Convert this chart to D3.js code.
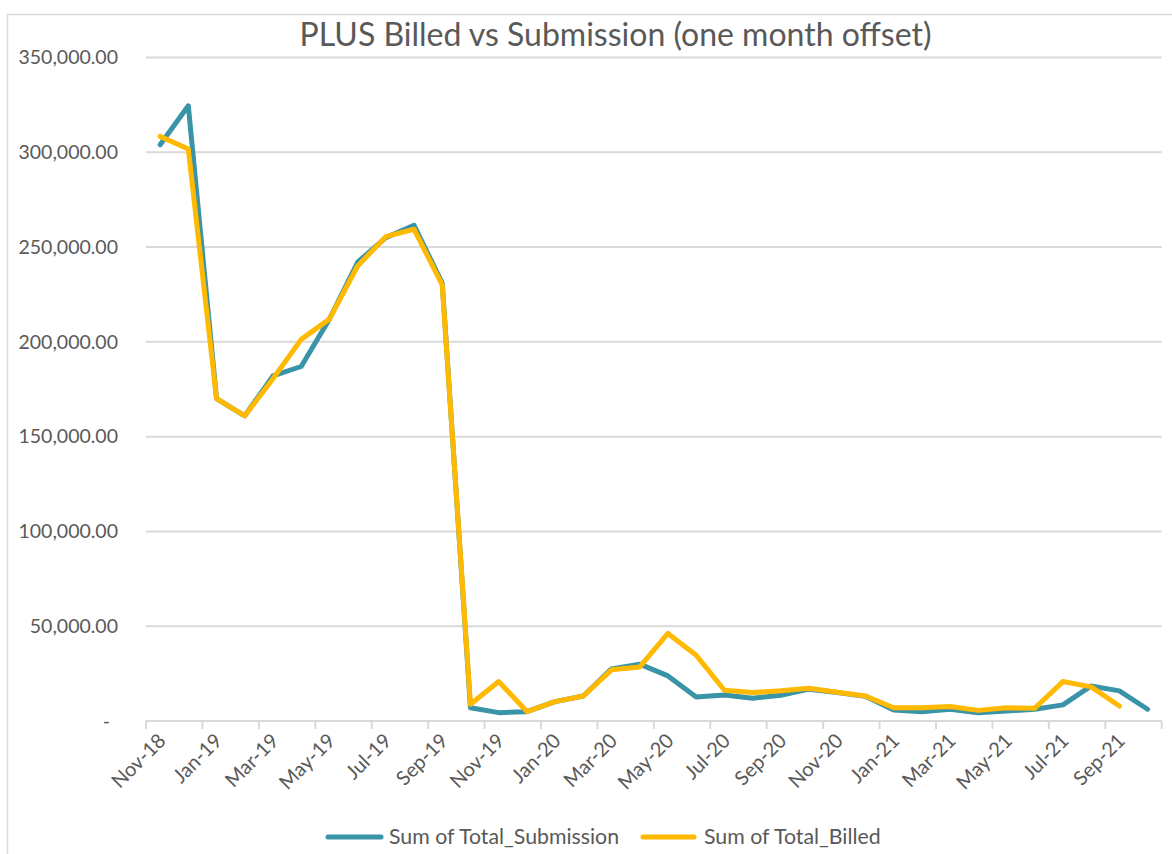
<!DOCTYPE html>
<html>
<head>
<meta charset="utf-8">
<script src="https://cdn.jsdelivr.net/npm/d3@7"></script>
<style>
  html, body { margin: 0; padding: 0; background: #fff; }
  svg { display: block; }
  text { font-family: Lato, "Open Sans", sans-serif; fill: #595959; }
</style>
</head>
<body>
<svg id="chart" width="1172" height="854"></svg>
<script>
const months = ["Nov-18","Dec-18","Jan-19","Feb-19","Mar-19","Apr-19","May-19","Jun-19","Jul-19","Aug-19","Sep-19","Oct-19",
  "Nov-19","Dec-19","Jan-20","Feb-20","Mar-20","Apr-20","May-20","Jun-20","Jul-20","Aug-20","Sep-20","Oct-20",
  "Nov-20","Dec-20","Jan-21","Feb-21","Mar-21","Apr-21","May-21","Jun-21","Jul-21","Aug-21","Sep-21","Oct-21"];
const submission = [304000, 324500, 170000, 161000, 182000, 187000, 212000, 242000, 255000, 261500, 231000, 7000,
  4400, 4900, 10200, 13200, 27500, 30000, 23800, 12700, 13700, 12000, 13600, 16800,
  15000, 13000, 5800, 4900, 6200, 4400, 5300, 6200, 8500, 18500, 15900, 6200];
const billed = [308400, 301700, 170000, 161000, 180500, 201300, 212000, 240000, 255500, 259400, 230000, 8800,
  20800, 5000, 10200, 13200, 27000, 28500, 46200, 34700, 16200, 15000, 15900, 17300,
  15200, 13200, 7000, 7000, 7600, 5600, 7000, 6700, 20800, 18000, 7900];
const yTicks = [0, 50000, 100000, 150000, 200000, 250000, 300000, 350000];
const seriesNames = ["Sum of Total_Submission", "Sum of Total_Billed"];
const seriesColors = ["#3A94A8", "#FFB900"];
const title = "PLUS Billed vs Submission (one month offset)";

const svg = d3.select("#chart");

// chart outline
svg.append("rect").attr("x", 7.5).attr("y", 14.5).attr("width", 1300).attr("height", 1000)
  .attr("fill", "none").attr("stroke", "#D9D9D9").attr("stroke-width", 1.5);

const x = d3.scaleBand().domain(months).range([146, 1161.7]).paddingInner(0).paddingOuter(0);
const y = d3.scaleLinear().domain([0, 350000]).range([721, 57.5]);
const cx = m => x(m) + x.bandwidth() / 2;

// title
svg.append("text").attr("x", 615.5).attr("y", 46).attr("text-anchor", "middle")
  .style("font-size", "32px").text(title);

// gridlines
svg.append("g").selectAll("line").data(yTicks.filter(d => d > 0)).join("line")
  .attr("x1", 146).attr("x2", 1161.7).attr("y1", d => y(d)).attr("y2", d => y(d))
  .attr("stroke", "#D9D9D9").attr("stroke-width", 2);

// y labels
const fmt = d3.format(",.2f");
svg.append("g").selectAll("text").data(yTicks).join("text")
  .attr("x", d => d === 0 ? 110 : 118).attr("y", d => y(d)).attr("dy", "0.35em")
  .attr("text-anchor", "end").style("font-size", "19.5px")
  .text(d => d === 0 ? "-" : fmt(d));

// x axis line & ticks
svg.append("line").attr("x1", 146).attr("x2", 1161.7).attr("y1", y(0)).attr("y2", y(0))
  .attr("stroke", "#D9D9D9").attr("stroke-width", 2);
const tickPos = months.filter((m, i) => i % 2 === 0).map(m => x(m)).concat([x.range()[1]]);
svg.append("g").selectAll("line").data(tickPos).join("line")
  .attr("x1", d => d).attr("x2", d => d).attr("y1", y(0)).attr("y2", y(0) + 8)
  .attr("stroke", "#D9D9D9").attr("stroke-width", 2);

// x labels
svg.append("g").selectAll("text").data(months.filter((m, i) => i % 2 === 0)).join("text")
  .attr("transform", m => `translate(${cx(m) + 2},${y(0) + 16}) rotate(-45)`)
  .attr("text-anchor", "end").attr("dy", "0.35em").style("font-size", "20px")
  .text(m => m);

// lines
const line = d3.line().x((d, i) => cx(months[i])).y(d => y(d));
[submission, billed].forEach((s, k) => {
  svg.append("path").datum(s).attr("d", line).attr("fill", "none")
    .attr("stroke", seriesColors[k]).attr("stroke-width", 5)
    .attr("stroke-linejoin", "round").attr("stroke-linecap", "round");
});

// legend
const legendItems = [{x1: 328, x2: 381, tx: 389}, {x1: 643, x2: 694, tx: 704}];
legendItems.forEach((it, k) => {
  svg.append("line").attr("x1", it.x1).attr("x2", it.x2).attr("y1", 837).attr("y2", 837)
    .attr("stroke", seriesColors[k]).attr("stroke-width", 5).attr("stroke-linecap", "round");
  svg.append("text").attr("x", it.tx).attr("y", 837).attr("dy", "0.35em")
    .style("font-size", "21.3px").text(seriesNames[k]);
});
</script>
</body>
</html>
